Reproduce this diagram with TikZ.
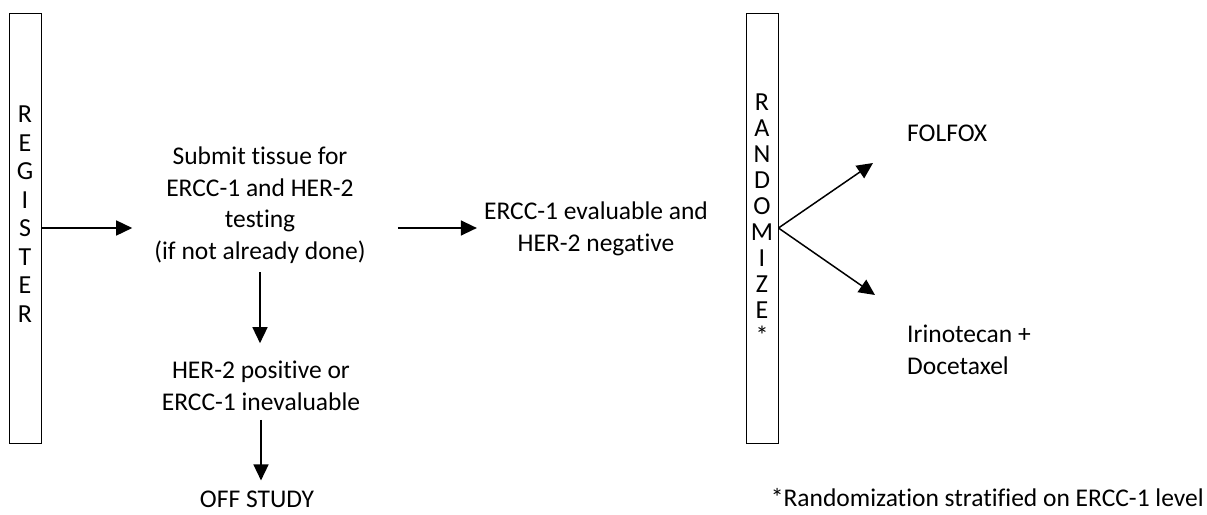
\documentclass[tikz,border=0pt]{standalone}
\usepackage{fontspec}
\setmainfont{Carlito}[Ligatures=NoCommon]
\usetikzlibrary{arrows.meta}
\tikzset{
  txt/.style={inner sep=0pt, font=\fontsize{25.5}{31.5}\selectfont, align=center},
  vbox/.style={draw=black, line width=0.9pt, minimum width=32pt, minimum height=430pt, inner sep=0pt},
  vlet/.style={inner sep=0pt, align=center},
  arr/.style={line width=1.5pt, -{Triangle[length=16pt,width=15pt]}}
}
\begin{document}
\begin{tikzpicture}[x=1pt,y=-1pt]
\useasboundingbox (0,0) rectangle (1207,514);
% boxes
\node[vbox] (reg) at (25,228) {};
\node[vlet, font=\fontsize{26}{28.5}\selectfont] (regtxt) at (25,214) {R\\E\\G\\I\\S\\T\\E\\R};
\node[vbox] (rand) at (762,228) {};
\node[vlet, font=\fontsize{26}{26}\selectfont] (randtxt) at (762,219) {R\\A\\N\\D\\O\\M\\I\\Z\\E\\*};
% texts
\node[txt] (submit) at (260,205) {Submit tissue for\\ERCC-1 and HER-2\\testing\\(if not already done)};
\node[txt] (eval) at (596,229) {ERCC-1 evaluable and\\HER-2 negative};
\node[txt] (her) at (261,386) {HER-2 positive or\\ERCC-1 inevaluable};
\node[txt] (off) at (257,499) {OFF STUDY};
\node[txt, anchor=west] (folfox) at (907,133) {FOLFOX};
\node[txt, anchor=west, align=left] (irino) at (907,350) {Irinotecan +\\Docetaxel};
\node[txt, anchor=east] (note) at (1204,498) {*Randomization stratified on ERCC-1 level};
% arrow ends
\coordinate (up) at (873,163);
\coordinate (dn) at (875,295);
% connectors
\draw[arr, shorten >=22pt] (reg.east) -- (reg.east -| submit.west);
\draw[arr, shorten <=32pt, shorten >=7pt] (reg.east -| submit.east) -- (reg.east -| eval.west);
\draw[arr, shorten <=9pt, shorten >=18pt] (submit.south) -- (submit.south |- her.north);
\draw[arr, shorten <=9pt, shorten >=10pt] (her.south) -- (her.south |- off.north);
\draw[arr] (rand.east) -- (up);
\draw[arr] (rand.east) -- (dn);
\end{tikzpicture}
\end{document}
